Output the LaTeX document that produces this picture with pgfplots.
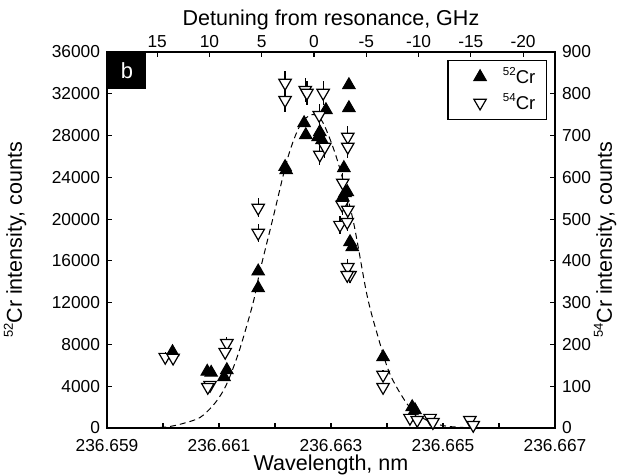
\documentclass[border=0pt]{standalone}
\usepackage{fontspec}
\setmainfont{Liberation Sans}
\usepackage{pgfplots}
\usepackage{pgfplotstable}
\pgfplotsset{compat=1.18}

% small raised isotope number
\newcommand\iso[2][5.8]{\raisebox{0.8ex}{\fontsize{#1}{#1}\selectfont #2}}

% x: wavelength offset from 236.659 nm, in pm (0.001 nm)
\pgfplotstableread{
x y
1.17 7280
1.79 5400
1.86 5300
2.14 5550
2.09 4880
2.70 15000
2.70 13400
3.18 25000
3.20 24700
3.52 29200
3.55 28050
3.77 27860
3.80 28340
3.84 27570
3.91 30450
4.32 32840
4.32 30640
4.23 24900
4.25 22500
4.29 22600
4.21 22100
4.34 17810
4.38 17330
4.93 6800
5.45 2010
5.50 1720
}\crA

\pgfplotstableread{
x y e
3.18 826 28.7
3.18 785 28.0
3.54 809 28.4
3.57 802 28.3
3.86 802 28.3
3.79 749 27.4
4.30 697 26.4
4.30 673 25.9
3.80 654 25.6
3.89 673 25.9
4.21 587 24.2
4.20 534 23.1
4.30 522 22.8
4.16 486 22.0
4.29 493 22.2
4.30 385 19.6
4.34 366 19.1
4.29 366 19.1
2.70 527 23.0
2.70 467 21.6
1.04 170 13.0
1.18 168 13.0
2.14 203 14.2
2.11 182 13.5
1.84 103 10.1
1.80 98 9.9
4.93 127 11.3
4.93 98 9.9
5.41 24 4.9
5.54 19 4.4
5.77 24 4.9
5.82 14 3.7
6.48 19 4.4
6.54 7 2.6
}\crB

\pgfplotstableread{
x y
0.77 0
1.07 100
1.35 420
1.66 1000
1.90 2200
2.07 3500
2.20 5000
2.38 7700
2.61 12000
2.73 15000
2.96 20000
3.23 25900
3.45 29000
3.66 30000
3.85 29300
4.11 25700
4.39 20000
4.64 12800
4.82 9100
5.05 5200
5.36 2300
5.60 1100
5.82 480
6.10 150
6.54 0
}\fitcurve

\pgfplotsset{
  base/.style={
    scale only axis, width=224bp, height=188bp,
    clip=false,
    axis line style={line width=0.6pt},
    major tick length=2.5bp,
    tick style={line width=0.6pt, black},
    ticklabel style={font=\fontsize{8.7}{10}\selectfont},
    label style={font=\fontsize{10.8}{13}\selectfont},
    /pgf/number format/assume math mode=true,
    /pgf/number format/1000 sep={},
    scaled ticks=false,
  },
  up/.style={mark=triangle*, mark size=3.6bp, mark options={fill=black, draw=black, line width=0.5pt}},
  down/.style={mark=triangle*, mark size=3.6bp, mark options={fill=white, draw=black, line width=0.6pt, rotate=180}},
}

\begin{document}
\begin{tikzpicture}
\begin{axis}[base,
  xmin=0, xmax=8, ymin=0, ymax=36000,
  xtick={0,...,8},
  xticklabels={236.659,,236.661,,236.663,,236.665,,236.667},
  xticklabel style={yshift=-2bp},
  ytick={0,4000,...,36000},
  xtick pos=bottom, ytick pos=left,
  xlabel={Wavelength, nm},
  ylabel={\iso[6.5]{52}Cr intensity, counts},
  xlabel style={at={(axis description cs:0.5,-0.098)}, anchor=center},
  ylabel style={at={(axis description cs:-0.205,0.5)}, anchor=center},
]
\addplot[black, line width=0.5pt, dash pattern=on 3bp off 2bp, smooth] table {\fitcurve};
\addplot[only marks, up] table {\crA};
\node[fill=black, text=white, anchor=north west, minimum width=19.5bp, minimum height=18.5bp,
  inner sep=0pt, font=\fontsize{11}{13}\selectfont] at (rel axis cs:0,1) {b};
\end{axis}

\begin{axis}[base,
  xmin=0, xmax=8, ymin=0, ymax=900,
  hide x axis, axis y line*=right,
  ytick={0,100,...,900},
  ylabel={\iso[6.5]{54}Cr intensity, counts},
  ylabel style={at={(axis description cs:1.112,0.5)}, anchor=center},
  legend image code/.code={%
    \path[draw=none, fill=none] (0bp,0bp) -- (10.5bp,0bp);
    \draw[#1, /tikz/only marks] plot coordinates {(10.5bp,0bp)};},
  legend style={at={(axis description cs:0.982,0.979)}, anchor=north east,
    draw=black, line width=0.6pt, font=\fontsize{9.3}{11}\selectfont,
    inner xsep=5.5bp, inner ysep=3.5bp, row sep=3.5bp,
    nodes={inner sep=0pt},
    /tikz/every odd column/.append style={column sep=8.3bp}},
  legend cell align=left,
]
\addlegendimage{only marks, up}
\addlegendentry{\iso{52}Cr}
\addplot[only marks, down, black, line width=0.6pt,
  error bars/.cd, y dir=both, y explicit, error mark=none,
  error bar style={line width=0.6pt}]
  table[y error=e] {\crB};
\addlegendentry{\iso{54}Cr}
\end{axis}

\begin{axis}[base,
  xmin=-23.05, xmax=19.80, x dir=reverse, ymin=0, ymax=1,
  axis x line*=top, hide y axis,
  xtick={-20,-15,...,15},
  xticklabel style={yshift=-1.5bp},
  xlabel={Detuning from resonance, GHz},
  xlabel style={at={(axis description cs:0.5,1.085)}, anchor=center},
]
\end{axis}

\pgfresetboundingbox
\path[use as bounding box] (-53.5bp,-23.5bp) rectangle (258bp,214bp);
\end{tikzpicture}
\end{document}
